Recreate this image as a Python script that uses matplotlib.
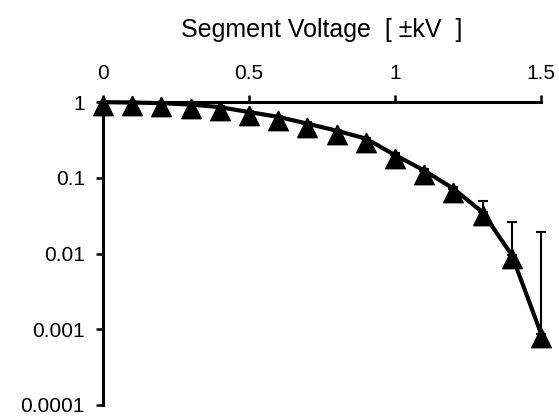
import numpy as np
import matplotlib.pyplot as plt

plt.rcParams['font.family'] = ['Liberation Sans', 'DejaVu Sans']

voltage = [0.0, 0.1, 0.2, 0.3, 0.4, 0.5, 0.6, 0.7, 0.8, 0.9, 1.0, 1.1, 1.2, 1.3, 1.4, 1.5]
ratio = [1.0, 0.99, 0.97, 0.93, 0.86, 0.74, 0.64, 0.52, 0.42, 0.33, 0.20, 0.125, 0.072, 0.035, 0.0095, 0.00087]
upper = [1.0, 1.0, 0.99, 0.95, 0.88, 0.76, 0.66, 0.54, 0.43, 0.34, 0.21, 0.13, 0.075, 0.049, 0.026, 0.019]

yticks = [1, 0.1, 0.01, 0.001, 0.0001]
ytick_labels = ['1', '0.1', '0.01', '0.001', '0.0001']
xticks = [0, 0.5, 1, 1.5]
xtick_labels = ['0', '0.5', '1', '1.5']

# triangle whose data point sits in its upper part, like the spreadsheet marker
tri = [(0, 0.65), (-1, -1.35), (1, -1.35), (0, 0.65)]

fig = plt.figure(figsize=(5.59, 4.17), dpi=100)
ax = fig.add_axes([0.184, 0.029, 0.784, 0.726])

err_up = np.array(upper) - np.array(ratio)
ax.errorbar(voltage, ratio, yerr=[np.zeros_like(err_up), err_up], fmt='none',
            ecolor='black', elinewidth=1.5, capsize=3.6, capthick=1.5, clip_on=False)
ax.plot(voltage, ratio, color='black', lw=3, solid_joinstyle='round', clip_on=False)
ax.plot(voltage, ratio, linestyle='none', marker=tri, ms=19, color='black', clip_on=False)

ax.set_yscale('log')
ax.set_ylim(1e-4, 1)
ax.set_xlim(0, 1.5)
ax.set_yticks(yticks)
ax.set_yticklabels(ytick_labels)
ax.minorticks_off()
ax.set_xticks(xticks)
ax.set_xticklabels(xtick_labels)

ax.xaxis.tick_top()
ax.xaxis.set_label_position('top')
ax.set_xlabel('Segment Voltage  [ ±kV  ]', fontsize=18, labelpad=19)

for s in ['right', 'bottom']:
    ax.spines[s].set_visible(False)
for s in ['top', 'left']:
    ax.spines[s].set_linewidth(2.2)
ax.tick_params(direction='out', length=5, width=1.8, labelsize=15)
ax.tick_params(axis='x', pad=9)
ax.tick_params(axis='y', pad=8)

fig.savefig('out.png', dpi=100)
